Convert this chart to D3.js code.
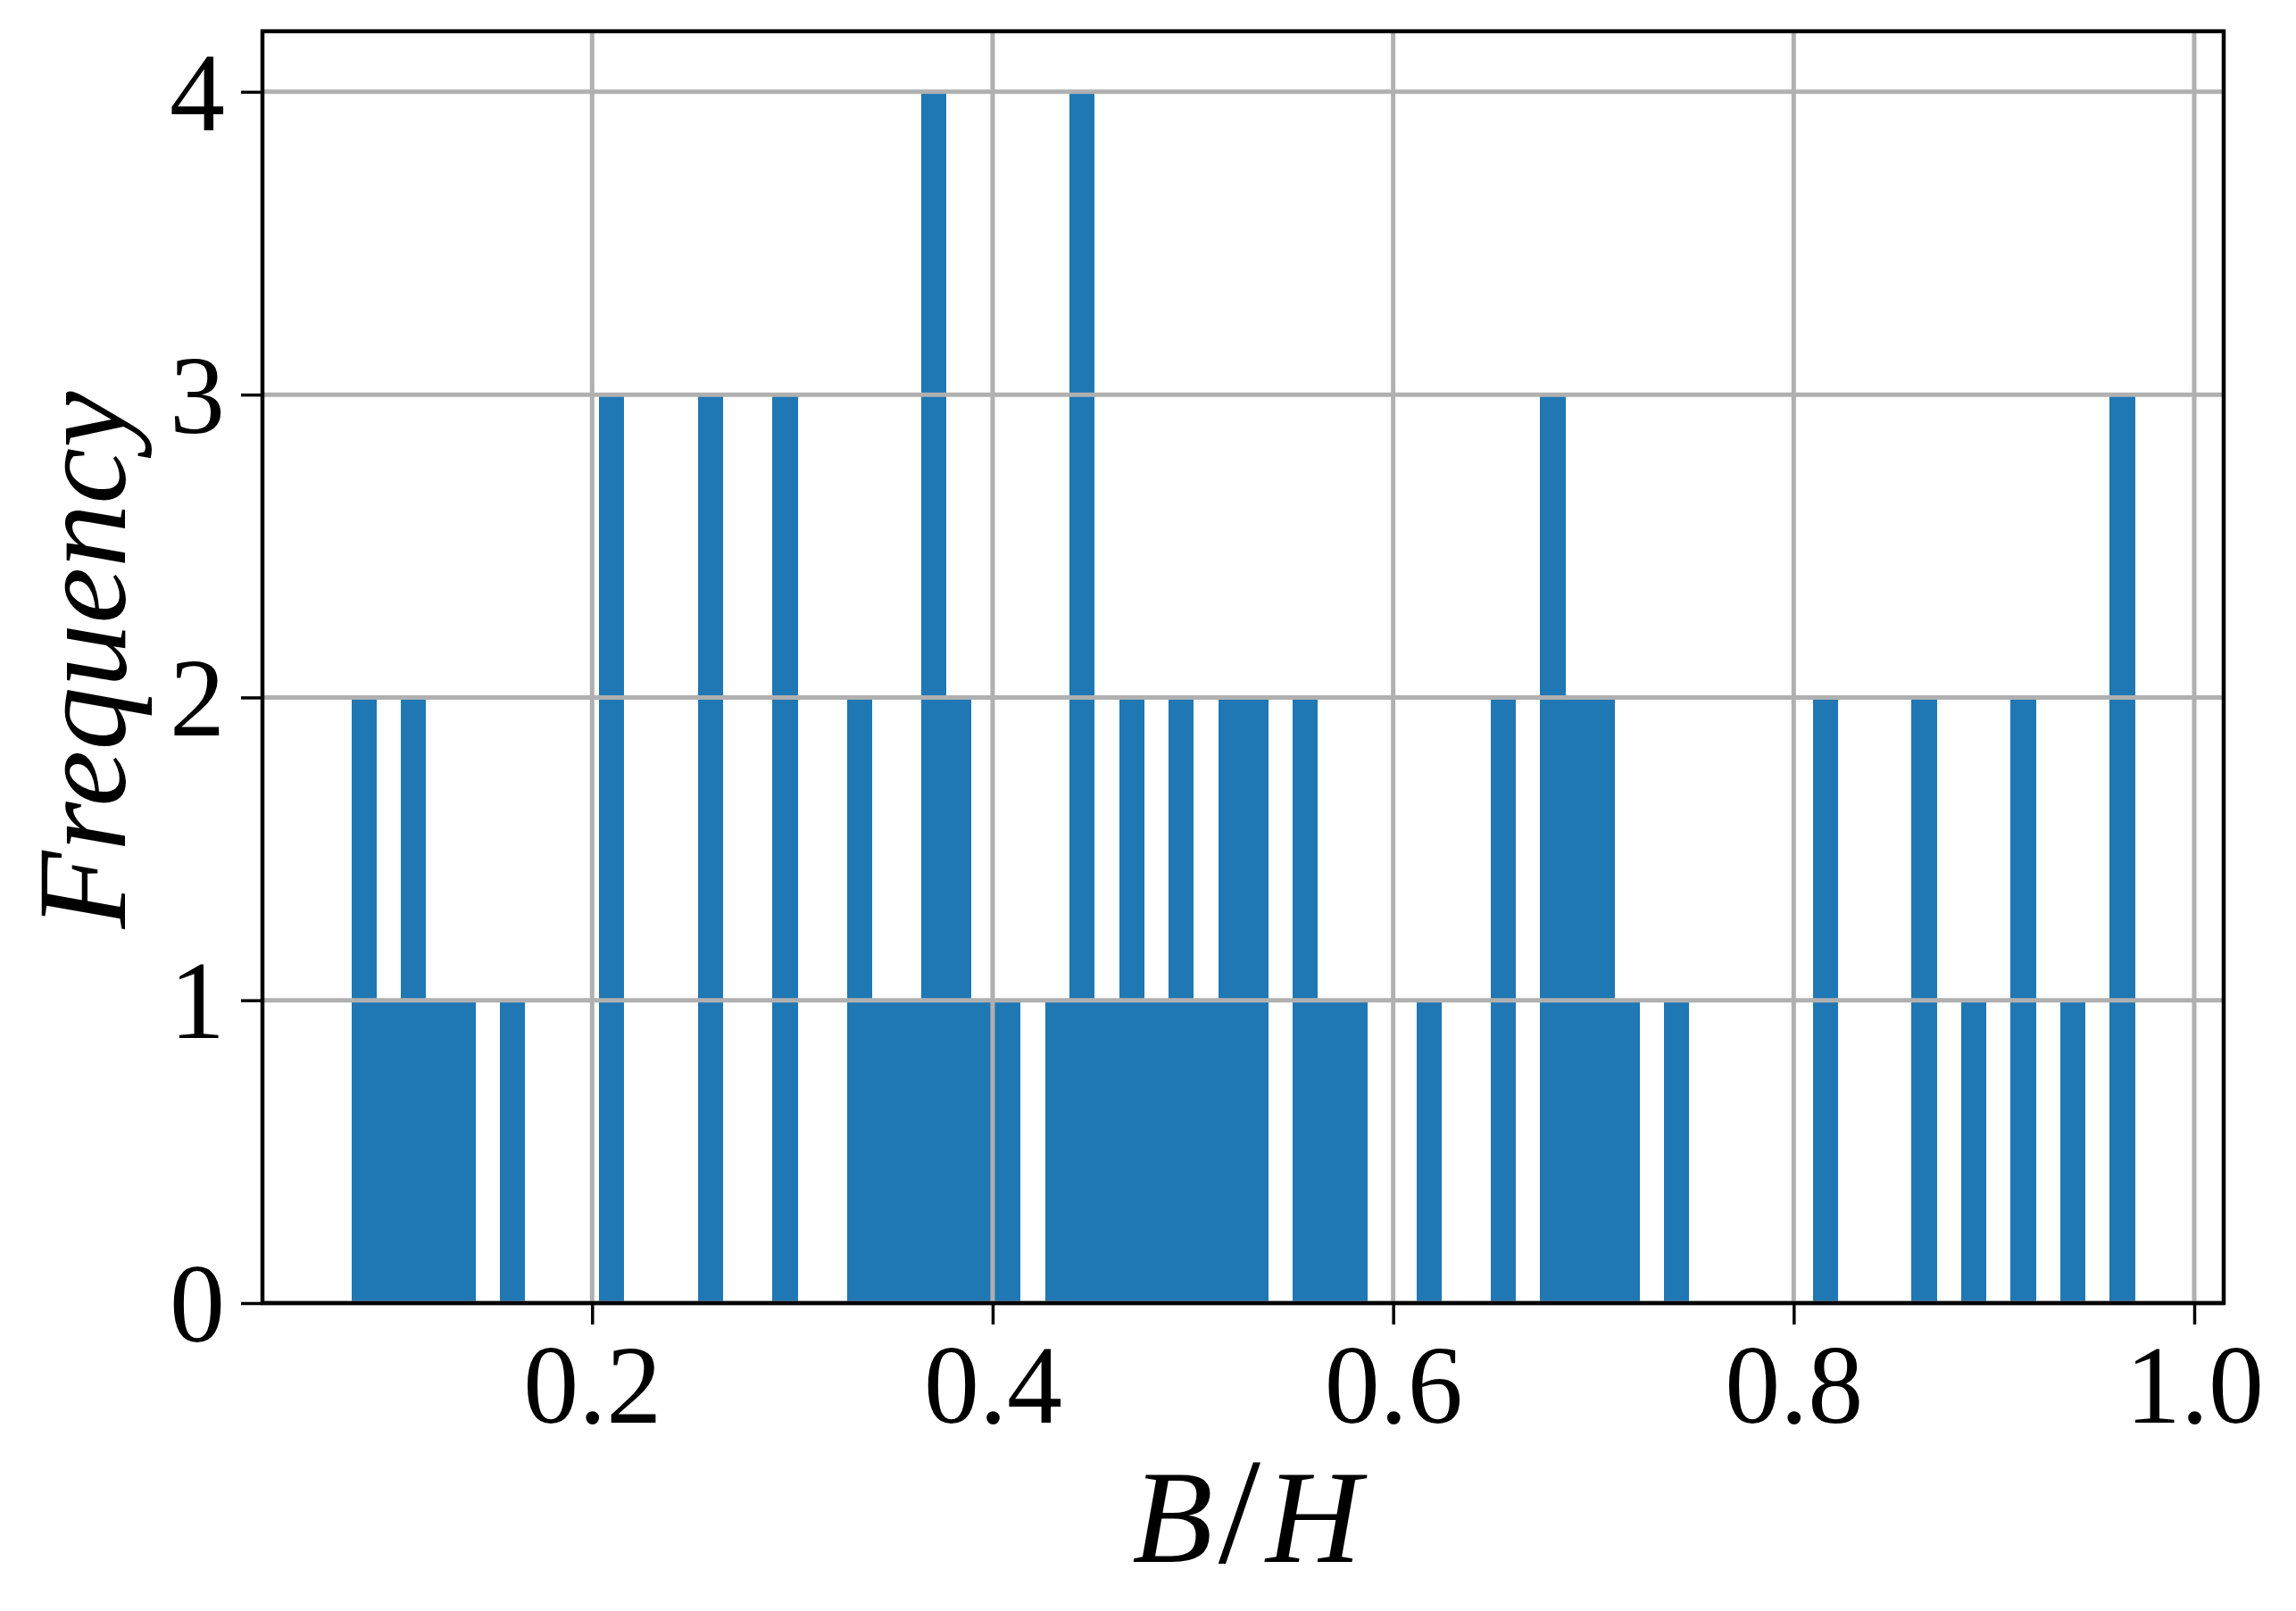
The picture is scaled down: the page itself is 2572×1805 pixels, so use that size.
<!DOCTYPE html>
<html>
<head>
<meta charset="utf-8">
<script src="https://cdn.jsdelivr.net/npm/d3@7"></script>
<style>
  html, body { margin: 0; padding: 0; background: #fff; }
  svg { display: block; }
  .tick text { font-family: "Liberation Serif", "DejaVu Serif", serif; }
  .label { font-family: "Liberation Serif", "DejaVu Serif", serif; font-style: italic; }
</style>
</head>
<body>
<svg id="chart"></svg>
<script>
// histogram of B/H, 72 equal bins between the smallest and largest value
const dataMin = 0.0799;
const dataMax = 0.9702;
const binCounts = [
  2, 1, 2, 1, 1, 0, 1, 0, 0, 0,
  3, 0, 0, 0, 3, 0, 0, 3, 0, 0,
  2, 1, 1, 4, 2, 1, 1, 0, 1, 4,
  1, 2, 1, 2, 1, 2, 2, 0, 2, 1,
  1, 0, 0, 1, 0, 0, 2, 0, 3, 2,
  2, 1, 0, 1, 0, 0, 0, 0, 0, 2,
  0, 0, 0, 2, 0, 1, 0, 2, 0, 1,
  0, 3
];
const xTicks = [0.2, 0.4, 0.6, 0.8, 1.0];
const yTicks = [0, 1, 2, 3, 4];
const xLabel = 'B/H';
const yLabel = 'Frequency';

const W = 2572, H = 1805;
const margin = { top: 35, right: 81, bottom: 345, left: 294 };
const width = W - margin.left - margin.right;
const height = H - margin.top - margin.bottom;

const svg = d3.select('#chart').attr('width', W).attr('height', H);
const g = svg.append('g').attr('transform', `translate(${margin.left},${margin.top})`);

// matplotlib style 5% padding on x, top of y
const span = dataMax - dataMin;
const binW = span / binCounts.length;
const bins = binCounts.map((c, i) => ({ x0: dataMin + i * binW, x1: dataMin + (i + 1) * binW, count: c }));

const x = d3.scaleLinear().domain([dataMin - 0.05 * span, dataMax + 0.05 * span]).range([0, width]);
const y = d3.scaleLinear().domain([0, d3.max(binCounts) * 1.05]).range([height, 0]);

// bars
g.selectAll('rect.bar')
  .data(bins.filter(d => d.count > 0))
  .join('rect')
  .attr('class', 'bar')
  .attr('x', d => x(d.x0))
  .attr('width', d => x(d.x1) - x(d.x0) + 0.4)
  .attr('y', d => y(d.count))
  .attr('height', d => y(0) - y(d.count))
  .attr('fill', '#1f77b4')
  .attr('shape-rendering', 'crispEdges');

// grid drawn over the bars
const grid = g.append('g').attr('stroke', '#b0b0b0').attr('stroke-width', 5);
grid.selectAll('line.gx').data(xTicks).join('line')
  .attr('x1', d => x(d)).attr('x2', d => x(d))
  .attr('y1', 0).attr('y2', height);
grid.selectAll('line.gy').data(yTicks).join('line')
  .attr('x1', 0).attr('x2', width)
  .attr('y1', d => y(d)).attr('y2', d => y(d));

// axes
const xAxis = d3.axisBottom(x).tickValues(xTicks).tickFormat(d3.format('.1f')).tickSize(24).tickPadding(22);
const yAxis = d3.axisLeft(y).tickValues(yTicks).tickFormat(d3.format('d')).tickSize(24).tickPadding(18);

const xG = g.append('g').attr('transform', `translate(0,${height})`).call(xAxis);
const yG = g.append('g').call(yAxis);
[xG, yG].forEach(a => {
  a.select('.domain').remove();
  a.selectAll('.tick line').attr('stroke', '#000').attr('stroke-width', 3.5);
  a.selectAll('.tick text').attr('font-size', 124).attr('fill', '#000');
});
yG.selectAll('.tick text').attr('dy', '0.34em');

// frame
g.append('rect')
  .attr('width', width).attr('height', height)
  .attr('fill', 'none').attr('stroke', '#000').attr('stroke-width', 4.5);

// labels
const xl = svg.append('text').attr('class', 'label')
  .attr('x', margin.left + width / 2 + 4).attr('y', 1750)
  .attr('text-anchor', 'middle').attr('font-size', 148);
xl.append('tspan').text('B');
xl.append('tspan').attr('font-style', 'normal').attr('font-size', 170).attr('dx', 6).text('/');
xl.append('tspan').attr('dx', 6).text('H');

svg.append('text').attr('class', 'label')
  .attr('transform', `translate(140,${margin.top + height / 2 - 8}) rotate(-90)`)
  .attr('text-anchor', 'middle').attr('font-size', 142)
  .text(yLabel);
</script>
</body>
</html>
